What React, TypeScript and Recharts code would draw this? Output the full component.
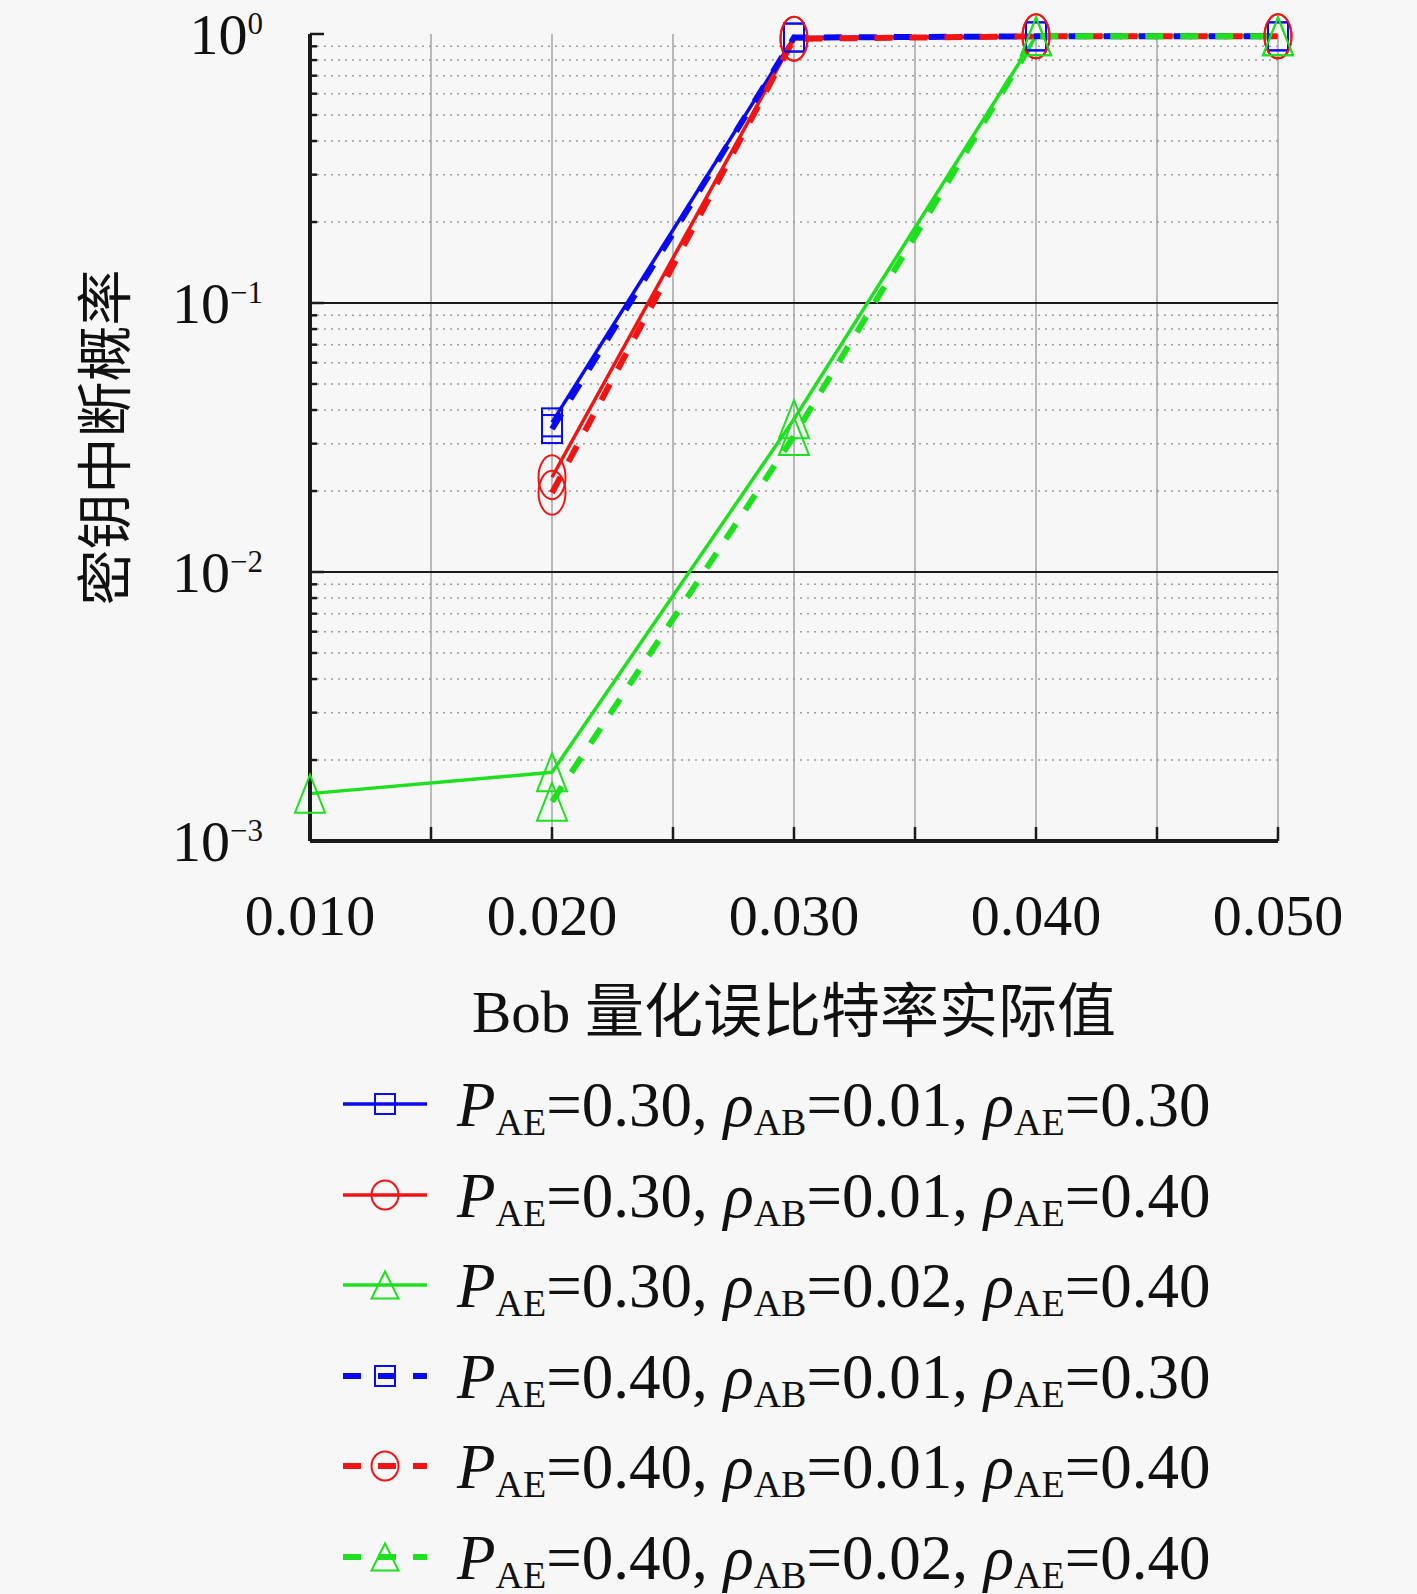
import React from 'react';
import { LineChart, Line, XAxis, YAxis, CartesianGrid, ReferenceLine, Legend, Label } from 'recharts';

// Bob quantization BER (x) vs. key outage probability (y, log scale)
const berValues = [0.01, 0.02, 0.03, 0.04, 0.05];

const xTicks = [0.01, 0.015, 0.02, 0.025, 0.03, 0.035, 0.04, 0.045, 0.05];
const xTickLabels = ['0.010', '', '0.020', '', '0.030', '', '0.040', '', '0.050'];

const yMajorTicks = [0.001, 0.01, 0.1, 1];
const yExponents = ['\u22123', '\u22122', '\u22121', '0'];
const yMinorTicks = [
  0.002, 0.003, 0.004, 0.005, 0.006, 0.007, 0.008, 0.009,
  0.02, 0.03, 0.04, 0.05, 0.06, 0.07, 0.08, 0.09,
  0.2, 0.3, 0.4, 0.5, 0.6, 0.7, 0.8, 0.9,
];
const yAllTicks = [...yMajorTicks, ...yMinorTicks].sort((a, b) => a - b);

// one list per curve, null where nothing is plotted
const pae30Ab01Ae30 = [null, 0.036, 0.97, 0.98, 0.98];
const pae30Ab01Ae40 = [null, 0.0225, 0.96, 0.98, 0.98];
const pae30Ab02Ae40 = [0.0015, 0.0018, 0.037, 0.98, 0.98];
const pae40Ab01Ae30 = [null, 0.034, 0.97, 0.98, 0.98];
const pae40Ab01Ae40 = [null, 0.0197, 0.96, 0.98, 0.98];
const pae40Ab02Ae40 = [null, 0.0014, 0.032, 0.98, 0.98];

const xTitle = 'Bob 量化误比特率实际值';
const yTitle = '密钥中断概率';

const BLUE = '#0a0af0';
const RED = '#f01414';
const GREEN = '#1ee01e';
const SERIF = "'Liberation Serif', 'DejaVu Serif', serif";
const CJK = "'Noto Sans CJK SC', sans-serif";
const DASH = '18 17';

type MarkerKind = 'square' | 'circle' | 'triangle';

const series = [
  { key: 's1', values: pae30Ab01Ae30, color: BLUE, dashed: false, marker: 'square' as MarkerKind, pae: '0.30', rab: '0.01', rae: '0.30' },
  { key: 's2', values: pae30Ab01Ae40, color: RED, dashed: false, marker: 'circle' as MarkerKind, pae: '0.30', rab: '0.01', rae: '0.40' },
  { key: 's3', values: pae30Ab02Ae40, color: GREEN, dashed: false, marker: 'triangle' as MarkerKind, pae: '0.30', rab: '0.02', rae: '0.40' },
  { key: 's4', values: pae40Ab01Ae30, color: BLUE, dashed: true, marker: 'square' as MarkerKind, pae: '0.40', rab: '0.01', rae: '0.30' },
  { key: 's5', values: pae40Ab01Ae40, color: RED, dashed: true, marker: 'circle' as MarkerKind, pae: '0.40', rab: '0.01', rae: '0.40' },
  { key: 's6', values: pae40Ab02Ae40, color: GREEN, dashed: true, marker: 'triangle' as MarkerKind, pae: '0.40', rab: '0.02', rae: '0.40' },
];

const data = berValues.map((x, i) => {
  const row: Record<string, number | null> = { x };
  series.forEach(s => { row[s.key] = s.values[i]; });
  return row;
});

const Marker = ({ kind, cx, cy, color, legend }: { kind: MarkerKind; cx: number; cy: number; color: string; legend?: boolean }) => {
  if (kind === 'square') {
    const w = 20;
    const h = legend ? 20 : 28;
    return <rect x={cx - w / 2} y={cy - h / 2} width={w} height={h} fill="none" stroke={color} strokeWidth={2} />;
  }
  if (kind === 'circle') {
    return <ellipse cx={cx} cy={cy} rx={13.5} ry={legend ? 14.5 : 22} fill="none" stroke={color} strokeWidth={2} />;
  }
  const w = legend ? 27 : 30;
  const h = legend ? 27 : 38;
  const pts = `${cx},${cy - h / 2} ${cx - w / 2},${cy + h / 2} ${cx + w / 2},${cy + h / 2}`;
  return <polygon points={pts} fill="none" stroke={color} strokeWidth={2} />;
};

const makeDot = (kind: MarkerKind, color: string) => (props: any) => {
  const { cx, cy, index } = props;
  if (cx == null || cy == null || props.value == null) return <g key={`d${index}`} />;
  return (
    <g key={`d${index}`}>
      <Marker kind={kind} cx={cx} cy={cy} color={color} />
    </g>
  );
};

const BottomTick = (props: any) => {
  const { x, y, payload } = props;
  const label = xTickLabels[xTicks.indexOf(payload.value)];
  return (
    <g>
      <line x1={x} x2={x} y1={y} y2={y - 14} stroke="#1a1a1a" strokeWidth={2.5} />
      {label && (
        <text x={x} y={y + 94} textAnchor="middle" fontFamily={SERIF} fontSize={58} fill="#111">
          {label}
        </text>
      )}
    </g>
  );
};

const TopTick = (props: any) => {
  const { x, y } = props;
  return <line x1={x} x2={x} y1={y} y2={y + 14} stroke="#1a1a1a" strokeWidth={2.5} />;
};

const LeftTick = (props: any) => {
  const { x, y, payload } = props;
  const idx = yMajorTicks.indexOf(payload.value);
  const major = idx >= 0;
  return (
    <g>
      <line x1={x} x2={x + (major ? 14 : 7)} y1={y} y2={y} stroke="#1a1a1a" strokeWidth={2.5} />
      {major && (
        <text x={x - 47} y={y + 20} textAnchor="end" fontFamily={SERIF} fontSize={58} fill="#111">
          10
          <tspan fontSize={31} dy={-20}>{yExponents[idx]}</tspan>
        </text>
      )}
    </g>
  );
};

const RightTick = (props: any) => {
  const { x, y, payload } = props;
  const major = yMajorTicks.includes(payload.value);
  return <line x1={x} x2={x - (major ? 14 : 7)} y1={y} y2={y} stroke="#1a1a1a" strokeWidth={2.5} />;
};

const renderXTitle = (props: any) => {
  const vb = props.viewBox;
  return (
    <text x={vb.x + vb.width / 2} y={vb.y + 191} textAnchor="middle" fontFamily={`${SERIF}, ${CJK}`} fontSize={59} fill="#111">
      {xTitle}
    </text>
  );
};

const renderYTitle = (props: any) => {
  const vb = props.viewBox;
  const cx = vb.x + 50;
  const cy = vb.y + vb.height / 2;
  return (
    <text
      x={cx}
      y={cy}
      transform={`rotate(-90 ${cx} ${cy})`}
      textAnchor="middle"
      dominantBaseline="central"
      fontFamily={CJK}
      fontSize={56}
      fill="#111"
    >
      {yTitle}
    </text>
  );
};

const renderLegend = () => (
  <div>
    {series.map(s => (
      <svg key={s.key} width={950} height={90.5} style={{ display: 'block' }}>
        <line
          x1={8}
          x2={92}
          y1={45}
          y2={45}
          stroke={s.color}
          strokeWidth={s.dashed ? 6 : 3.5}
          strokeDasharray={s.dashed ? DASH : undefined}
        />
        <Marker kind={s.marker} cx={50} cy={45} color={s.color} legend />
        <text x={122} y={67} fontFamily={SERIF} fontSize={63} fill="#111">
          <tspan fontStyle="italic">P</tspan>
          <tspan fontSize={38} dy={9}>AE</tspan>
          <tspan dy={-9}>{`=${s.pae}, `}</tspan>
          <tspan fontStyle="italic">{'\u03c1'}</tspan>
          <tspan fontSize={38} dy={9}>AB</tspan>
          <tspan dy={-9}>{`=${s.rab}, `}</tspan>
          <tspan fontStyle="italic">{'\u03c1'}</tspan>
          <tspan fontSize={38} dy={9}>AE</tspan>
          <tspan dy={-9}>{`=${s.rae}`}</tspan>
        </text>
      </svg>
    ))}
  </div>
);

export default function App() {
  return (
    <div style={{ position: 'absolute', left: 0, top: 0, width: 1417, height: 1594, background: '#f7f7f7' }}>
      <LineChart width={1417} height={1594} data={data} margin={{ top: 34, right: 139, bottom: 553, left: 50 }}>
        <CartesianGrid horizontal={false} stroke="#a4a4a4" strokeWidth={1.5} />
        {yMinorTicks.map(v => (
          <ReferenceLine key={`m${v}`} y={v} stroke="#9c9c9c" strokeWidth={1.5} strokeDasharray="2 5" />
        ))}
        {[0.01, 0.1].map(v => (
          <ReferenceLine key={`M${v}`} y={v} stroke="#1a1a1a" strokeWidth={2} />
        ))}
        <XAxis
          dataKey="x"
          type="number"
          domain={[0.01, 0.05]}
          ticks={xTicks}
          interval={0}
          height={200}
          tickSize={0}
          tickMargin={0}
          tickLine={false}
          tick={BottomTick}
          axisLine={{ stroke: '#1a1a1a', strokeWidth: 4 }}
        >
          <Label content={renderXTitle} />
        </XAxis>
        <XAxis
          xAxisId="top"
          orientation="top"
          dataKey="x"
          type="number"
          domain={[0.01, 0.05]}
          ticks={xTicks}
          interval={0}
          height={0}
          tickSize={0}
          tickMargin={0}
          tickLine={false}
          tick={TopTick}
          axisLine={{ stroke: '#1a1a1a', strokeWidth: 4 }}
        />
        <YAxis
          type="number"
          scale="log"
          domain={[0.001, 1]}
          ticks={yAllTicks}
          interval={0}
          width={260}
          tickSize={0}
          tickMargin={0}
          tickLine={false}
          tick={LeftTick}
          axisLine={{ stroke: '#1a1a1a', strokeWidth: 4 }}
        >
          <Label content={renderYTitle} />
        </YAxis>
        <YAxis
          yAxisId="right"
          orientation="right"
          type="number"
          scale="log"
          domain={[0.001, 1]}
          ticks={yAllTicks}
          interval={0}
          width={0}
          tickSize={0}
          tickMargin={0}
          tickLine={false}
          tick={RightTick}
          axisLine={{ stroke: '#1a1a1a', strokeWidth: 4 }}
        />
        {series.map(s => (
          <Line
            key={s.key}
            dataKey={s.key}
            type="linear"
            stroke={s.color}
            strokeWidth={s.dashed ? 6 : 3.5}
            strokeDasharray={s.dashed ? DASH : undefined}
            dot={makeDot(s.marker, s.color)}
            activeDot={false}
            connectNulls={false}
            isAnimationActive={false}
          />
        ))}
        <Legend
          layout="vertical"
          verticalAlign="middle"
          align="center"
          content={renderLegend}
          wrapperStyle={{ left: 335, top: 1059, width: 950 }}
        />
      </LineChart>
    </div>
  );
}
